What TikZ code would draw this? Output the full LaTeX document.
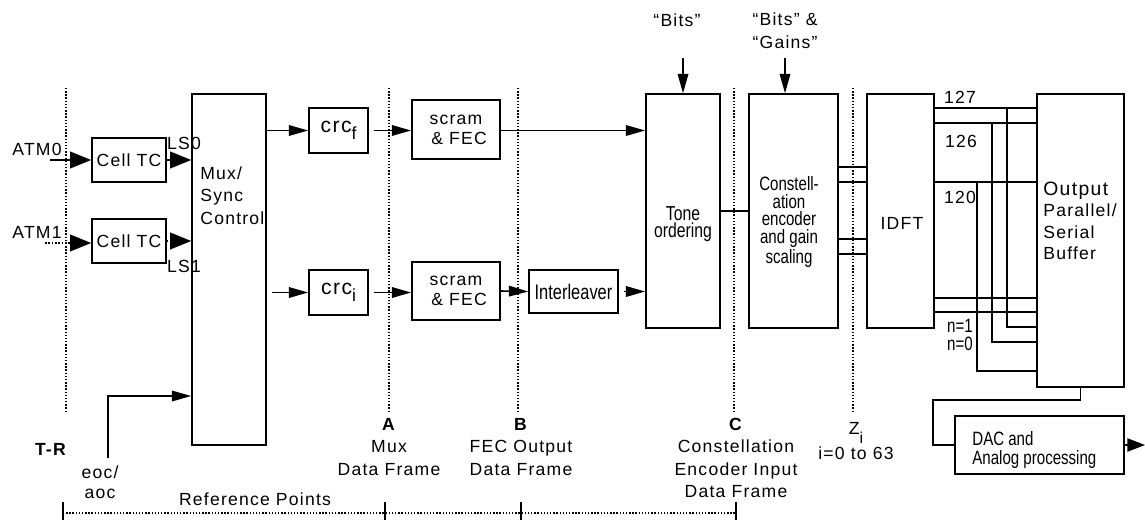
\documentclass[tikz,border=0pt]{standalone}
\usepackage{fontspec}
\setmainfont{Liberation Sans}[LetterSpace=7]
\newfontfamily\narrowfont{Liberation Sans}[FakeStretch=0.78]
\usetikzlibrary{arrows.meta}

\tikzset{
  blk/.style={draw, line width=.9pt, inner sep=0pt},
  wire/.style={line width=.9pt},
  arr/.style={wire, -{Triangle[length=11pt,width=6pt]}},
  fatarr/.style={wire, -{Triangle[length=12pt,width=9.5pt]}},
  refpt/.style={densely dotted, line width=.8pt},
  txt/.style={inner sep=0pt, align=center, font=\fontsize{10}{12.8}\selectfont},
  narrow/.style={inner sep=0pt, align=center, font=\narrowfont\fontsize{11}{10}\selectfont},
}

\begin{document}
\begin{tikzpicture}[x=0.02cm,y=-0.02cm]
\useasboundingbox (0,0) rectangle (1145,520);

% reference point lines
\foreach \xx in {66,389,518,734,853}
  \draw[refpt] (\xx,88) -- (\xx,412);

% blocks
\node[blk, minimum width=1.48cm, minimum height=.88cm, txt] (cell0) at (129,160) {Cell TC};
\node[blk, minimum width=1.48cm, minimum height=.88cm, txt] (cell1) at (129,241) {Cell TC};
\node[blk, minimum width=1.48cm, minimum height=7.02cm] (mux) at (229,269.5) {};
\node[txt, align=left, anchor=north west] (muxtxt) at (200,166) {Mux/\\Sync\\Control};
\node[blk, minimum width=1.18cm, minimum height=.9cm, font=\fontsize{12}{14}\selectfont] (crcf) at (338.5,130.5) {crc\raisebox{-4pt}{\fontsize{10}{10}\selectfont f}};
\node[blk, minimum width=1.18cm, minimum height=.9cm, font=\fontsize{12}{14}\selectfont] (crci) at (338.5,292.5) {crc\raisebox{-4pt}{\fontsize{10}{10}\selectfont i}};
\node[blk, minimum width=1.76cm, minimum height=1.18cm, txt, font=\fontsize{10}{11.5}\selectfont] (scrf) at (456,129.5) {scram\\\ \& FEC};
\node[blk, minimum width=1.76cm, minimum height=1.16cm, txt, font=\fontsize{10}{11.5}\selectfont] (scri) at (456,291) {scram\\\ \& FEC};
\node[blk, minimum width=1.78cm, minimum height=.86cm, font=\narrowfont\fontsize{12}{12}\selectfont] (intl) at (573.5,291.5) {Interleaver};
\node[blk, minimum width=1.48cm, minimum height=4.68cm] (tone) at (683,211) {};
\node[narrow, font=\narrowfont\fontsize{11.5}{10}\selectfont] (tonetxt) at (683,224) {Tone\\ordering};
\node[blk, minimum width=1.78cm, minimum height=4.68cm] (cons) at (793.5,211) {};
\node[narrow] (constxt) at (789,222) {Constell-\\ation\\encoder\\and gain\\scaling};
\node[blk, minimum width=1.34cm, minimum height=4.68cm] (idft) at (900.5,211) {};
\node[txt] (idfttxt) at (902,223) {IDFT};
\node[blk, minimum width=1.74cm, minimum height=5.86cm] (buf) at (1080.5,240.5) {};
\node[txt, align=left, anchor=north west, font=\fontsize{10}{12}\selectfont] (buftxt) at (1043,182) {{\fontsize{11}{12}\selectfont Output}\\Parallel/\\ Serial\\ Buffer};
\node[blk, minimum width=3.38cm, minimum height=1.16cm] (dac) at (1039.5,445) {};
\node[anchor=west, align=left, inner sep=0pt, font=\narrowfont\fontsize{11}{10.4}\selectfont] (dactxt) at (972,450) {DAC and\\Analog processing};

% inputs
\node[txt] (atm0) at (37,149) {ATM0};
\node[txt] (atm1) at (37,232) {ATM1};
\coordinate (atm0in) at (50,160);
\coordinate (atm1in) at (45,243);
\draw[fatarr] (atm0in) -- (cell0.west);
\draw[fatarr, densely dotted] (atm1in) -- (atm1in -| cell1.west);
\draw[fatarr] (cell0.east) -- (cell0.east -| mux.west);
\draw[fatarr, densely dotted] (cell1.east) -- (cell1.east -| mux.west);
\node[txt] (ls0) at (184,143) {LS0};
\node[txt] (ls1) at (184,266) {LS1};
\coordinate (eocin) at (108,458);
\draw[arr] (eocin) |- (mux.west |- 0,396);

% data paths
\draw[arr] (mux.east |- crcf) -- (crcf.west);
\draw[arr, shorten <=2.8pt] (mux.east |- crci) -- (crci.west);
\draw[arr, shorten <=2.8pt] (crcf.east) -- (scrf.west |- crcf);
\draw[arr, shorten <=2.8pt] (crci.east) -- (scri.west |- crci);
\draw[arr] (scrf.east |- crcf) -- (tone.west |- crcf);
\draw[arr] (scri.east) -- (intl.west);
\draw[arr, shorten <=2.8pt] (intl.east) -- (tone.west |- intl);
\draw[wire] (tone.east) -- (cons.west);
\foreach \yy in {167,182,239,254}
  \draw[wire] (cons.east |- 0,\yy) -- (idft.west |- 0,\yy);

% bits and gains
\node[txt] (bits) at (677,20) {“Bits”};
\node[txt, font=\fontsize{10}{13}\selectfont] (gains) at (785,31) {“Bits” \&\\“Gains”};
\coordinate (bitsin) at (683,58);
\coordinate (gainsin) at (785,58);
\draw[arr] (bitsin) -- (tone.north);
\draw[arr] (gainsin) -- (gainsin |- cons.north);

% IDFT outputs
\foreach \yy in {108,123,182,298,312}
  \draw[wire] (idft.east |- 0,\yy) -- (buf.west |- 0,\yy);
\coordinate (j127) at (1007,108);
\coordinate (j126) at (992,123);
\coordinate (j120) at (977,182);
\draw[wire] (j127) |- (buf.west |- 0,327);
\draw[wire] (j126) |- (buf.west |- 0,342);
\draw[wire] (j120) |- (buf.west |- 0,371);
\node[txt] (l127) at (960,97) {127};
\node[txt] (l126) at (961,141) {126};
\node[txt] (l120) at (960,197) {120};
\node[narrow] (ln) at (960,335) {n=1\\n=0};

% output
\draw[wire] (buf.south) -- ++(0,12) -| (dac.west -| 933,0) -- (dac.west);
\coordinate (dacout) at (1145,445);
\draw[wire, -{Triangle[length=10pt,width=7.5pt]}] (dac.east) -- (dacout);

% reference points
\node[txt] (tr) at (51,449) {\textbf{T-R}};
\node[txt, font=\fontsize{10}{11.5}\selectfont] (eoc) at (100,482) {eoc/\\aoc};
\node[txt] (ptA) at (389,447) {\textbf{A}\\Mux\\Data Frame};
\node[txt] (ptB) at (521,447) {\textbf{B}\\FEC Output\\Data Frame};
\node[txt] (ptC) at (736,458) {\textbf{C}\\Constellation\\Encoder Input\\Data Frame};
\node[txt, font=\fontsize{10}{14}\selectfont] (ptZ) at (856,441) {Z\raisebox{-5pt}{\fontsize{9}{9}\selectfont i}\\i=0 to 63};
\node[txt] (refpts) at (255,499) {Reference Points};
\draw[refpt] (63,513) -- (736,513);
\foreach \xx in {63,385,521,736}
  \draw[wire] (\xx,502) -- (\xx,520);
\end{tikzpicture}
\end{document}
